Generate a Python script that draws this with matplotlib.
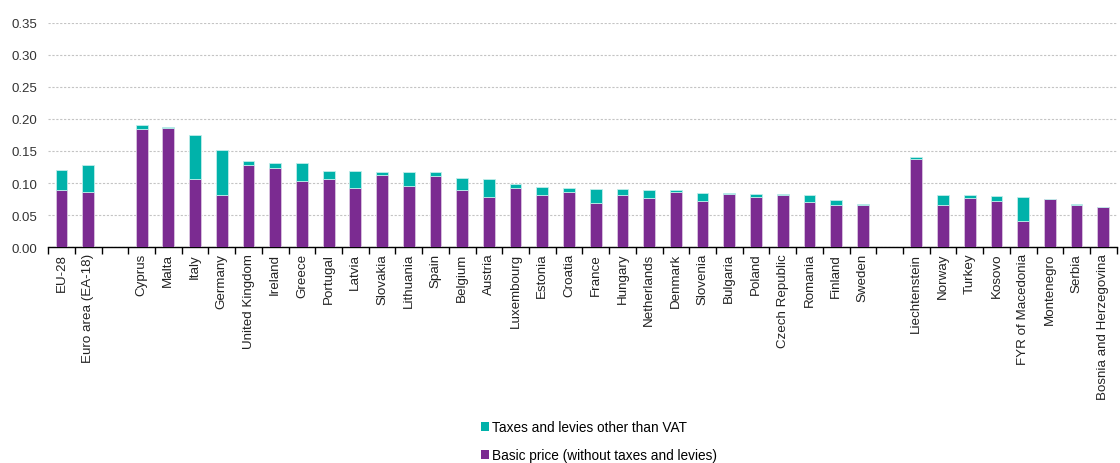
import matplotlib
matplotlib.use("Agg")
import matplotlib.pyplot as plt
import numpy as np
from matplotlib.patches import Patch

plt.rcParams['font.family'] = ['Liberation Sans', 'DejaVu Sans']

categories = ["EU-28", "Euro area (EA-18)", "",
              "Cyprus", "Malta", "Italy", "Germany", "United Kingdom", "Ireland", "Greece",
              "Portugal", "Latvia", "Slovakia", "Lithuania", "Spain", "Belgium", "Austria",
              "Luxembourg", "Estonia", "Croatia", "France", "Hungary", "Netherlands", "Denmark",
              "Slovenia", "Bulgaria", "Poland", "Czech Republic", "Romania", "Finland", "Sweden", "",
              "Liechtenstein", "Norway", "Turkey", "Kosovo", "FYR of Macedonia", "Montenegro",
              "Serbia", "Bosnia and Herzegovina"]

basic = [0.0888, 0.0868, np.nan,
         0.184, 0.1865, 0.1065, 0.0816, 0.1288, 0.1236, 0.103,
         0.1065, 0.0925, 0.1132, 0.0956, 0.1117, 0.0888, 0.078,
         0.0925, 0.0816, 0.0868, 0.069, 0.0816, 0.0764, 0.0868,
         0.0727, 0.083, 0.078, 0.082, 0.0706, 0.066, 0.066, np.nan,
         0.138, 0.066, 0.0774, 0.0727, 0.041, 0.0748,
         0.066, 0.0620]

total = [0.1205, 0.1288, np.nan,
         0.191, 0.187, 0.175, 0.152, 0.1345, 0.1314, 0.131,
         0.119, 0.119, 0.1174, 0.1169, 0.1169, 0.108, 0.1065,
         0.0992, 0.094, 0.092, 0.091, 0.0904, 0.0888, 0.0888,
         0.0847, 0.0847, 0.083, 0.083, 0.0816, 0.0732, 0.0675, np.nan,
         0.140, 0.0816, 0.0816, 0.0795, 0.078, 0.0753,
         0.0675, 0.0623]

basic = np.array(basic)
taxes = np.array(total) - basic

purple = "#7B2B91"
teal = "#00B2AA"

fig = plt.figure(figsize=(11.2, 4.64), dpi=100)
ax = fig.add_axes([0.043, 0.465, 0.954, 0.484])

x = np.arange(len(categories))
ax.bar(x, basic, width=0.44, color=purple, edgecolor="#D9C4E0", linewidth=0.6, zorder=3)
ax.bar(x, taxes, bottom=basic, width=0.44, color=teal, edgecolor="#BFEDEA", linewidth=0.6, zorder=3)

ax.set_xlim(-0.5, len(categories) - 0.5)
ax.set_ylim(0, 0.35)
ax.set_yticks(np.arange(0, 0.351, 0.05))
ax.set_yticklabels([f"{v:.2f}" for v in np.arange(0, 0.351, 0.05)], fontsize=9.5, color="#333333")
ax.yaxis.grid(True, linestyle=(0, (2, 1.5)), color="#C4C4C4", linewidth=0.8, zorder=0)
ax.set_axisbelow(True)

for s in ["top", "right", "left"]:
    ax.spines[s].set_visible(False)
ax.spines["bottom"].set_color("#000000")
ax.spines["bottom"].set_linewidth(1.0)
ax.tick_params(axis="y", length=0, pad=8)

ax.set_xticks(x)
ax.set_xticklabels(categories, rotation=90, fontsize=9.6, color="#222222", va="top", ha="center")
ax.tick_params(axis="x", length=0, pad=4)
ax.set_xticks(np.arange(-0.5, len(categories) + 0.5, 1), minor=True)
ax.tick_params(axis="x", which="minor", length=5, width=1, color="#000000")

handles = [Patch(facecolor=teal, edgecolor="none", label="Taxes and levies other than VAT"),
           Patch(facecolor=purple, edgecolor="none", label="Basic price (without taxes and levies)")]
fig.legend(handles=handles, loc="center", bbox_to_anchor=(0.5345, 0.047), frameon=False,
           fontsize=9.8, handlelength=0.6, handleheight=0.6, handletextpad=0.2, labelspacing=1.05)

fig.savefig("out.png", dpi=100)
